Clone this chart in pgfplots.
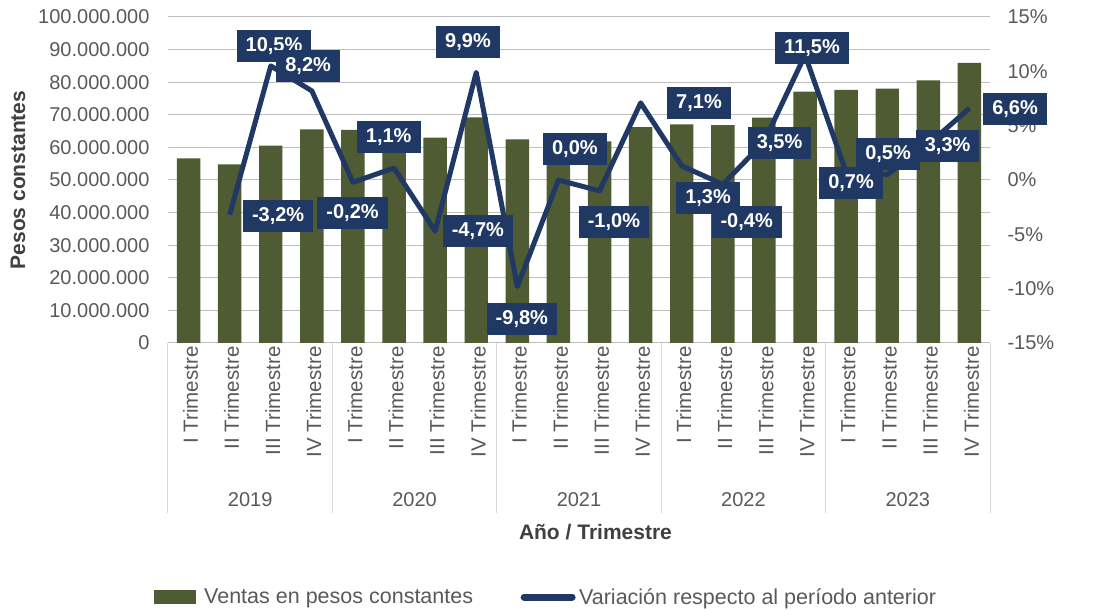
\documentclass[border=0pt]{standalone}
\usepackage{fontspec}
\setmainfont{Liberation Sans}
\usepackage{pgfplots}
\pgfplotsset{compat=1.18}
\definecolor{barolive}{HTML}{4F5B32}
\definecolor{lineblue}{HTML}{1F3864}
\definecolor{tickgrey}{HTML}{595959}
\definecolor{titlegrey}{HTML}{404040}
\definecolor{gridgrey}{HTML}{BFBFBF}
\definecolor{sepgrey}{HTML}{D9D9D9}
\newcommand\fs{\fontsize{20}{24}\selectfont}
\newcommand\fsc{\fontsize{20.5}{24}\selectfont}
\newcommand\fsl{\fontsize{21.5}{25}\selectfont}
\newcommand\fsb{\fontsize{21}{25}\selectfont}
\begin{document}
\begin{tikzpicture}[lbl/.style={fill=lineblue, text=white, font=\bfseries\fs, inner xsep=9pt, inner ysep=7.5pt, text height=14pt, text depth=3pt}]
\begin{axis}[
  width=822pt, height=326pt, scale only axis,
  xmin=-0.5, xmax=19.5,
  ymin=0, ymax=100000000,
  ytick={0,10000000,20000000,30000000,40000000,50000000,60000000,70000000,80000000,90000000,100000000},
  scaled y ticks=false,
  yticklabel style={/pgf/number format/fixed, /pgf/number format/precision=0, /pgf/number format/1000 sep={.}, /pgf/number format/assume math mode=true},
  yticklabel style={font=\fs, text=tickgrey, xshift=-15pt},
  xtick={0,...,19},
  xticklabels={I Trimestre, II Trimestre, III Trimestre, IV Trimestre,
               I Trimestre, II Trimestre, III Trimestre, IV Trimestre,
               I Trimestre, II Trimestre, III Trimestre, IV Trimestre,
               I Trimestre, II Trimestre, III Trimestre, IV Trimestre,
               I Trimestre, II Trimestre, III Trimestre, IV Trimestre},
  xticklabel style={rotate=90, anchor=east, font=\fsc, text=tickgrey, yshift=-2pt},
  major tick length=0pt,
  ymajorgrids, grid style={gridgrey, line width=1pt},
  axis line style={draw=none},
  clip=false,
  ylabel={Pesos constantes},
  ylabel style={at={(axis description cs:-0.1825,0.5)}, anchor=center, font=\bfseries\fsb, text=titlegrey},
  xlabel={Año / Trimestre},
  xlabel style={at={(rel axis cs:0.52,0)}, anchor=center, yshift=-189pt, font=\bfseries\fsb, text=titlegrey},
]
\addplot[ybar, bar width=0.57, fill=barolive, draw=none] coordinates {
 (0,56600000) (1,54790000) (2,60540000) (3,65510000)
 (4,65380000) (5,66100000) (6,62990000) (7,69230000)
 (8,62440000) (9,62440000) (10,61820000) (11,66210000)
 (12,67070000) (13,66800000) (14,69140000) (15,77090000)
 (16,77630000) (17,78020000) (18,80590000) (19,85910000)};
\pgfplotsinvokeforeach{-0.5,3.5,7.5,11.5,15.5,19.5}{
  \draw[sepgrey, line width=1pt] (axis cs:#1,0) -- ++(0pt,-170pt);
}
\node[font=\fs, text=tickgrey] at (axis cs:1.5,0) [yshift=-157pt] {2019};
\node[font=\fs, text=tickgrey] at (axis cs:5.5,0) [yshift=-157pt] {2020};
\node[font=\fs, text=tickgrey] at (axis cs:9.5,0) [yshift=-157pt] {2021};
\node[font=\fs, text=tickgrey] at (axis cs:13.5,0) [yshift=-157pt] {2022};
\node[font=\fs, text=tickgrey] at (axis cs:17.5,0) [yshift=-157pt] {2023};
\end{axis}
\begin{axis}[
  width=822pt, height=326pt, scale only axis,
  xmin=-0.5, xmax=19.5,
  ymin=-15, ymax=15,
  ytick={-15,-10,-5,0,5,10,15},
  axis x line=none,
  axis y line*=right,
  y axis line style={draw=none},
  major tick length=0pt,
  yticklabel={\pgfmathprintnumber{\tick}\%},
  yticklabel style={font=\fs, text=tickgrey, xshift=14pt, /pgf/number format/assume math mode=true},
  clip=false,
  legend style={at={(rel axis cs:0.46,0)}, anchor=center, yshift=-254pt, draw=none, fill=none, font=\fsl,
    legend columns=2, /tikz/every even column/.append style={column sep=45pt}},
]
\addlegendimage{legend image code/.code={\fill[barolive, draw=none] (0pt,-7pt) rectangle (42pt,7pt); \path[draw=none, fill=none] (0pt,0pt) -- (48pt,0pt);}}
\addlegendentry{\textcolor{tickgrey}{Ventas en pesos constantes}}
\addplot[lineblue, line width=5pt, line join=round,
  legend image code/.code={\draw[lineblue, line width=7pt, line cap=round] (4pt,0pt) -- (52pt,0pt); \path[draw=none, fill=none] (0pt,0pt) -- (57pt,0pt);}]
 coordinates {
 (1,-3.2) (2,10.5) (3,8.2) (4,-0.2) (5,1.1) (6,-4.7) (7,9.9) (8,-9.8) (9,0.0) (10,-1.0)
 (11,7.1) (12,1.3) (13,-0.4) (14,3.5) (15,11.5) (16,0.7) (17,0.5) (18,3.3) (19,6.6)};
\addlegendentry{\textcolor{tickgrey}{Variación respecto al período anterior}}
\node[lbl] at (axis cs:2.08,12.29) {10,5\%};
\node[lbl] at (axis cs:2.91,10.52) {8,2\%};
\node[lbl] at (axis cs:2.18,-3.30) {-3,2\%};
\node[lbl] at (axis cs:3.99,-3.08) {-0,2\%};
\node[lbl] at (axis cs:4.87,3.98) {1,1\%};
\node[lbl] at (axis cs:6.80,12.74) {9,9\%};
\node[lbl] at (axis cs:7.04,-4.68) {-4,7\%};
\node[lbl] at (axis cs:8.11,-12.76) {-9,8\%};
\node[lbl] at (axis cs:9.40,2.87) {0,0\%};
\node[lbl] at (axis cs:10.35,-3.85) {-1,0\%};
\node[lbl] at (axis cs:12.42,7.11) {7,1\%};
\node[lbl] at (axis cs:12.64,-1.64) {1,3\%};
\node[lbl] at (axis cs:13.58,-3.85) {-0,4\%};
\node[lbl] at (axis cs:14.38,3.45) {3,5\%};
\node[lbl] at (axis cs:15.17,12.19) {11,5\%};
\node[lbl] at (axis cs:17.02,2.37) {0,5\%};
\node[lbl] at (axis cs:16.12,-0.32) {0,7\%};
\node[lbl] at (axis cs:18.47,3.17) {3,3\%};
\node[lbl] at (axis cs:20.11,6.57) {6,6\%};
\end{axis}
\pgfresetboundingbox
\path (-168pt,-267pt) rectangle (928pt,343pt);
\end{tikzpicture}
\end{document}
